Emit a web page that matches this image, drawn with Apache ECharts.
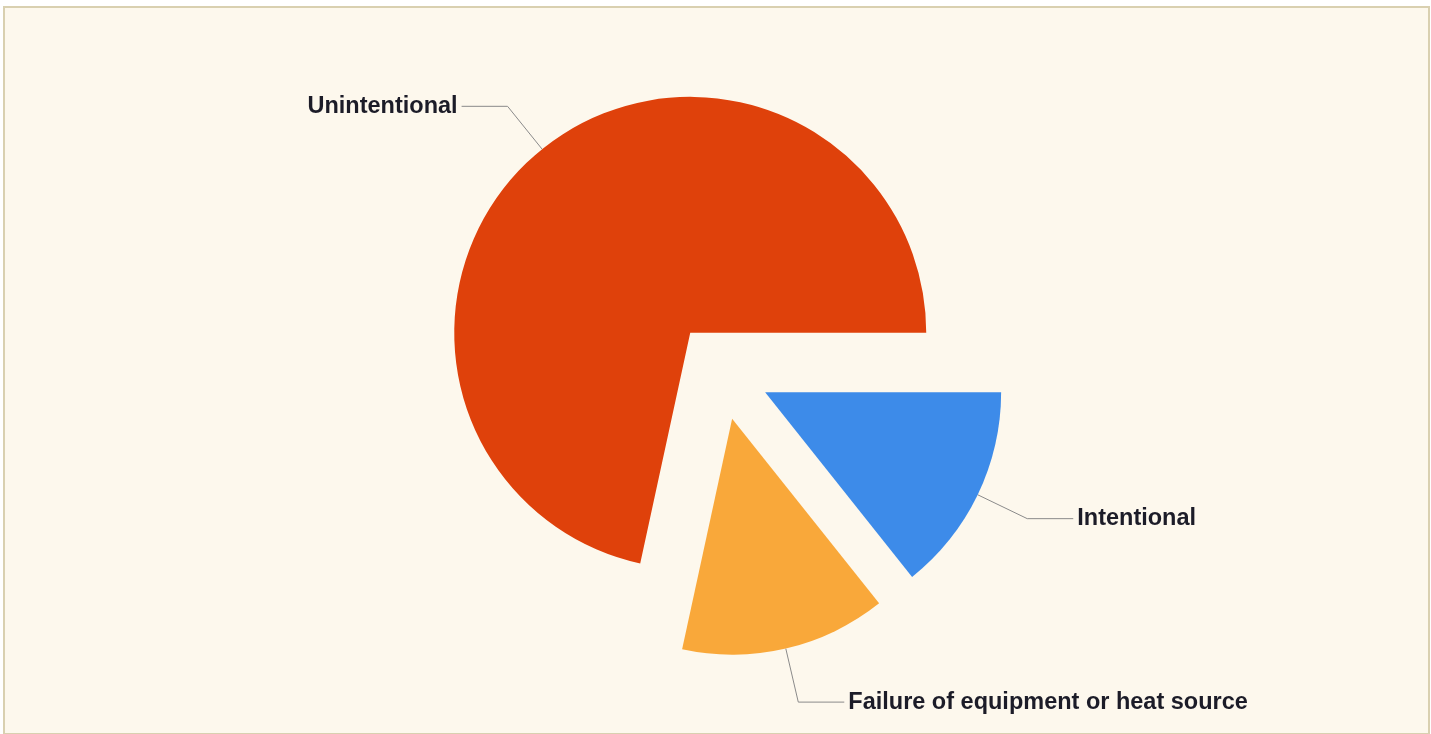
<!DOCTYPE html>
<html>
<head>
<meta charset="utf-8">
<script src="https://cdn.jsdelivr.net/npm/echarts@6/dist/echarts.min.js"></script>
<style>
  html, body { margin: 0; padding: 0; background: #ffffff; }
  .frame {
    position: absolute; left: 3px; top: 6px; width: 1423px; height: 725px;
    border: 2px solid #d9d0b0; background: #fdf8ed;
  }
  #chart { position: absolute; left: 0; top: 0; width: 1431px; height: 734px; }
</style>
</head>
<body>
<div class="frame"></div>
<div id="chart"></div>
<script>
// 数据：从 0 度（正东）开始顺时针
const causes = ['Intentional', 'Failure of equipment or heat source', 'Unintentional']
const shares = [14.3, 14.1, 71.6]
const colors = ['#3d8be9', '#f9a83a', '#df410b']

const chart = echarts.init(document.getElementById('chart'))

const option = {
  backgroundColor: 'transparent',
  animation: false,
  series: [
    {
      type: 'pie',
      center: [721, 371],
      radius: 236,
      startAngle: 0,
      clockwise: true,
      selectedMode: 'multiple',
      selectedOffset: 49,
      emphasis: { disabled: true },
      data: causes.map((name, i) => ({
        name: name,
        value: shares[i],
        selected: true,
        itemStyle: { color: colors[i] }
      })),
      label: {
        show: true,
        formatter: '{b}',
        color: '#1c1c28',
        fontFamily: '"Liberation Sans", Arial, sans-serif',
        fontWeight: 'bold',
        fontSize: 23.5,
        distanceToLabelLine: 4
      },
      labelLine: {
        show: true,
        length: 55,
        length2: 46,
        lineStyle: { color: '#8a8a8a', width: 1 }
      }
    }
  ]
}

chart.setOption(option)
</script>
</body>
</html>
